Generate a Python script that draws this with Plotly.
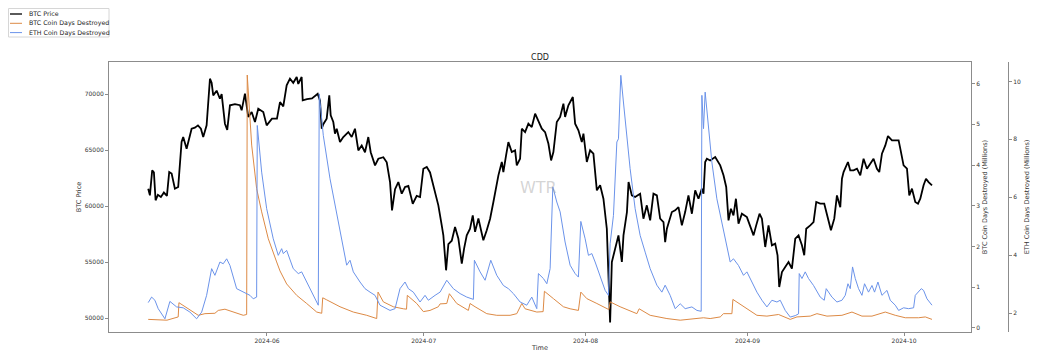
import pandas as pd
import plotly.graph_objects as go

# ---------------- data (days counted from 2024-05-01 00:00) ----------------
start = pd.Timestamp("2024-05-01")

price_days = [8.26, 8.58, 9.02, 9.35, 9.67, 10.11, 10.69, 11.26, 11.84, 12.28, 12.74, 13.37, 14.00,
              14.65, 14.96, 15.61, 16.57, 17.20, 17.78, 18.35, 18.79, 19.44, 20.08, 20.40, 20.71,
              21.36, 21.99, 22.32, 22.95, 23.39, 23.91, 24.87, 25.82, 26.15, 26.78, 27.41, 28.07,
              28.70, 29.33, 30.29, 30.94, 31.95, 32.91, 33.49, 34.12, 34.77, 35.40, 36.03, 36.69,
              36.99, 37.64, 37.84, 38.66, 39.62, 40.71, 41.15, 41.48, 41.78, 42.43, 42.93, 43.20,
              43.70, 44.02, 44.35, 44.98, 45.61, 46.57, 47.22, 47.85, 48.49, 49.14, 49.77, 50.40,
              50.86, 51.69, 52.32, 53.28, 53.93, 54.56, 54.94, 55.52, 56.15, 56.80, 57.43, 58.07,
              58.91, 59.67, 60.31, 60.94, 61.59, 62.22, 62.85, 63.81, 64.46, 64.77, 65.29, 65.73,
              66.38, 67.01, 67.64, 68.30, 68.74, 69.25, 69.88, 70.40, 70.84, 71.48, 72.13, 72.43,
              73.08, 73.72, 74.35, 75.31, 75.96, 76.26, 76.78, 77.22, 77.87, 78.51, 78.83, 79.46,
              79.79, 80.42, 81.05, 81.70, 82.34, 82.97, 83.62, 84.25, 84.89, 85.40, 85.84, 86.49,
              87.13, 87.76, 88.08, 88.71, 89.56, 90.00, 90.63, 91.28, 91.59, 92.24, 92.87, 93.50,
              94.16, 94.79, 95.42, 96.07, 96.46, 96.70, 97.03, 97.66, 98.30, 98.95, 99.26, 99.92,
              100.23, 100.86, 101.49, 102.45, 103.08, 103.73, 104.37, 105.00, 105.65, 106.28,
              106.92, 107.24, 107.57, 108.52, 109.16, 109.79, 110.44, 111.07, 111.70, 112.36,
              112.99, 113.62, 114.27, 114.58, 114.90, 115.23, 115.86, 116.82, 117.78, 118.41,
              118.93, 119.37, 119.83, 120.32, 120.79, 121.28, 121.93, 122.89, 123.52, 124.16,
              124.67, 125.31, 125.77, 126.40, 127.03, 127.68, 128.31, 128.76, 129.08, 129.60,
              130.23, 130.86, 131.51, 132.15, 132.78, 133.43, 133.87, 134.25, 135.02, 135.65,
              136.17, 136.93, 137.70, 138.52, 138.98, 139.62, 140.13, 140.77, 141.09, 141.40,
              141.72, 142.24, 142.68, 143.31, 143.97, 144.60, 145.23, 145.88, 146.51, 147.14,
              147.79, 148.24, 148.75, 149.39, 149.90, 150.67, 151.30, 151.94, 152.26, 152.89,
              153.54, 153.98, 154.50, 155.13, 155.65, 156.09, 156.72, 157.18, 157.68, 158.33]
btc_price = [61545, 60955, 63188, 63000, 60509, 61000, 60800, 61200, 60900, 63036, 62900, 61545, 61700,
             65714, 66160, 65117, 66902, 67000, 67200, 66900, 66160, 67205, 71370, 71000, 69880,
             70300, 69580, 70000, 67350, 66800, 68990, 69100, 69000, 68545, 70030, 67950, 68400,
             67500, 68690, 68400, 67200, 67800, 67800, 69285, 68900, 70775, 71370, 71000, 71520,
             70900, 71520, 69435, 69550, 69600, 70030, 69400, 66900, 67300, 67800, 69880, 68100,
             67500, 66460, 66900, 65710, 66160, 66600, 66160, 66900, 64970, 65400, 64800, 66160,
             64800, 63630, 64220, 64360, 63900, 62140, 59615, 61500, 62140, 61100, 61700, 61800,
             60200, 60900, 60800, 63330, 63480, 63000, 61850, 60060, 58270, 57390, 54260, 56600,
             56900, 58125, 57100, 54850, 56190, 57380, 57980, 59170, 57690, 58880, 57540, 56940,
             57840, 58870, 60360, 62740, 63930, 63030, 64520, 65710, 64820, 64970, 63630, 64220,
             66900, 66600, 67350, 67050, 68240, 67650, 66900, 66600, 65560, 64070, 64820, 67500,
             67950, 69140, 67950, 69000, 69730, 67350, 66760, 65710, 66460, 63930, 64970, 64670,
             61400, 61850, 60650, 57970, 51720, 49600, 55000, 56190, 57380, 55000, 57380, 59460,
             62140, 60950, 60800, 61100, 58870, 60060, 58720, 61100, 60950, 58870,
             58570, 56780, 57980, 59460, 59610, 59900, 58270, 59460, 60950, 59310,
             61400, 60650, 61550, 61100, 63930, 64220, 64070, 64370, 63630, 62740,
             61700, 58720, 59760, 59160, 60650, 58420, 59310, 59010, 58270, 57380,
             58270, 59310, 58870, 56340, 58270, 56490, 56640, 55600, 52770, 54110,
             54560, 55000, 54410, 57080, 57380, 56490, 55600, 57970, 58270, 58570,
             60360, 60210, 60210, 58570, 57840, 58870, 60950, 59900, 62440, 63030,
             63330, 63930, 63180, 63180, 63330, 62740, 64220, 63330, 63780, 64220,
             63330, 63030, 64670, 65410, 66250, 65860, 65860, 65860, 65120, 63630,
             63330, 60950, 61550, 60360, 60210, 60650, 61850, 62440, 62140, 61850]

btc_cdd_days = [8.26, 11.46, 11.84, 14.00, 14.14, 17.84, 19.12, 21.03, 21.67, 22.95, 25.19, 26.46,
                27.11, 27.22, 28.07, 29.02, 29.98, 31.25, 32.85, 33.49, 34.77, 36.69, 38.60, 40.52,
                41.48, 41.67, 42.43, 44.98, 47.53, 50.10, 52.01, 52.26, 53.28, 55.19, 57.11, 57.72,
                57.87, 59.67, 60.31, 60.94, 62.22, 63.81, 64.14, 65.42, 65.92, 67.34, 69.56, 69.88,
                70.84, 73.08, 75.00, 77.55, 78.83, 79.79, 80.42, 82.66, 83.87, 84.12, 85.84, 87.76,
                89.04, 90.63, 91.09, 92.24, 94.16, 96.07, 96.46, 96.70, 98.62, 101.82, 102.26,
                104.37, 107.57, 110.12, 112.66, 114.58, 115.86, 117.78, 118.41, 120.02, 120.21,
                122.24, 124.81, 126.72, 128.95, 131.19, 132.47, 135.02, 136.30, 138.22, 139.81,
                141.09, 143.01, 144.92, 146.84, 149.39, 151.30, 153.22, 155.76, 157.05, 158.33]
btc_cdd = [0.21, 0.20, 0.19, 0.27, 0.62, 0.31, 0.35, 0.36, 0.43, 0.46, 0.36, 0.31,
           0.33, 6.21, 4.49, 3.42, 2.85, 2.19, 1.62, 1.40, 1.08, 0.80, 0.60, 0.39,
           0.36, 0.74, 0.69, 0.52, 0.39, 0.31, 0.23, 0.88, 0.64, 0.52, 0.47, 0.46,
           0.80, 0.60, 0.50, 0.40, 0.43, 0.52, 0.59, 0.60, 0.84, 0.60, 0.43, 0.60,
           0.52, 0.35, 0.31, 0.31, 0.35, 0.60, 0.47, 0.39, 0.40, 0.90, 0.72, 0.52,
           0.47, 0.43, 0.88, 0.72, 0.60, 0.47, 0.45, 0.64, 0.52, 0.35, 0.47,
           0.31, 0.23, 0.19, 0.23, 0.25, 0.23, 0.27, 0.35, 0.35, 0.70,
           0.52, 0.31, 0.29, 0.33, 0.21, 0.27, 0.29, 0.35, 0.29, 0.31,
           0.31, 0.39, 0.29, 0.29, 0.39, 0.31, 0.25, 0.25, 0.27, 0.21]

eth_cdd_days = [8.26, 8.91, 9.54, 10.17, 11.46, 12.41, 13.70, 14.96, 16.25, 17.53, 18.49, 19.44,
                20.40, 21.03, 21.99, 22.62, 23.28, 23.91, 25.19, 26.46, 27.74, 28.37, 29.02, 29.14,
                29.98, 30.94, 32.20, 33.16, 33.81, 34.12, 34.77, 36.03, 36.99, 37.64, 38.60, 39.87,
                40.82, 41.01, 41.78, 43.07, 44.35, 45.61, 46.26, 46.90, 47.53, 48.81, 49.77, 50.73,
                51.69, 52.64, 54.56, 55.52, 56.47, 57.43, 58.07, 59.02, 60.31, 61.26, 61.90, 63.18,
                64.14, 65.42, 66.68, 67.97, 69.25, 70.52, 70.71, 71.80, 72.76, 73.85, 75.00, 76.26,
                77.22, 78.18, 79.46, 80.74, 81.70, 82.66, 82.97, 83.93, 84.58, 85.21, 85.73, 86.49,
                87.13, 88.08, 89.04, 90.00, 90.63, 91.09, 91.92, 92.55, 93.20, 93.83, 94.79, 95.75,
                96.38, 96.70, 97.34, 97.99, 98.30, 98.75, 99.25, 99.77, 100.53, 101.49, 102.45,
                103.41, 104.37, 105.65, 106.61, 107.24, 108.20, 109.16, 110.12, 111.07, 112.36,
                113.32, 114.14, 114.27, 114.58, 114.90, 115.53, 116.18, 117.14, 118.41, 119.69,
                120.32, 121.28, 122.24, 122.89, 123.85, 124.81, 125.77, 126.72, 127.68, 128.64,
                129.27, 130.23, 131.19, 132.15, 132.78, 132.91, 133.43, 134.06, 134.69, 135.65,
                136.93, 137.70, 138.08, 139.17, 140.13, 141.09, 141.72, 142.24, 142.68, 143.12,
                143.64, 144.27, 144.92, 145.42, 146.18, 146.84, 147.33, 147.98, 148.75, 149.71,
                150.34, 151.30, 151.94, 152.89, 153.85, 154.81, 155.13, 155.76, 156.28, 156.72,
                157.37, 158.33]
eth_cdd = [2.37, 2.56, 2.45, 2.16, 1.81, 2.41, 2.22, 2.19, 2.04, 1.81, 2.04, 2.62,
           3.54, 3.31, 3.77, 3.71, 3.88, 3.65, 2.85, 2.73, 2.62, 2.50, 2.56, 8.48,
           6.87, 5.61, 4.57, 4.00, 4.23, 4.06, 4.17, 3.54, 3.37, 3.43, 3.08, 2.62,
           2.28, 9.57, 8.14, 6.64, 5.49, 4.34, 3.66, 3.83, 3.43, 3.08, 2.85, 2.73,
           2.62, 2.28, 2.10, 2.16, 2.85, 3.08, 2.85, 2.73, 2.39, 2.62, 2.45, 2.62,
           2.73, 3.14, 2.85, 2.68, 2.56, 2.48, 3.83, 3.43, 3.14, 3.83, 3.31, 2.96,
           2.85, 2.68, 2.39, 2.28, 2.56, 2.16, 3.37, 3.20, 3.02, 3.54, 6.36, 5.84,
           5.50, 4.46, 3.66, 3.37, 3.25, 5.17, 4.57, 4.00, 4.06, 3.77, 3.31, 2.79,
           2.62, 4.40, 5.38, 7.91, 8.02, 10.21, 9.29, 8.37, 6.99, 5.61, 4.69,
           4.11, 3.54, 2.97, 2.73, 2.97, 2.62, 2.16, 2.33, 2.16, 2.22,
           2.10, 2.07, 9.52, 8.37, 9.63, 8.37, 7.22, 5.95, 4.92, 3.77,
           3.88, 3.65, 3.31, 3.43, 3.08, 2.73, 2.45, 2.22, 2.45, 2.39,
           2.45, 2.10, 1.87, 1.92, 1.98, 3.37, 3.20, 3.43, 3.20, 2.96,
           2.56, 2.45, 2.85, 2.56, 2.39, 2.45, 2.62, 3.02, 2.85, 3.60,
           3.20, 2.85, 2.62, 3.02, 2.73, 2.96, 2.73, 3.08, 2.62, 2.79,
           2.45, 2.28, 2.10, 2.19, 2.16, 2.19, 2.62, 2.73, 2.85, 2.79,
           2.50, 2.28]

series_names = ["BTC Price", "BTC Coin Days Destroyed", "ETH Coin Days Destroyed"]
series_colors = ["black", "#dd8a45", "#6b93ea"]

x_ticks = ["2024-06-01", "2024-07-01", "2024-08-01", "2024-09-01", "2024-10-01"]
x_tick_labels = ["2024-06", "2024-07", "2024-08", "2024-09", "2024-10"]


def to_dates(days):
    return start + pd.to_timedelta(days, unit="D")


FONT = "DejaVu Sans"
TXT = "#333333"
SPINE = "#8c8c8c"

# layout geometry: page has an 8px body margin, so the figure starts at (8, 8)
OFF = 8
W, H = 1038 - OFF, 355 - OFF
L = 109 - OFF           # plot left edge in screenshot = 109
T = 62 - OFF            # plot top in screenshot = 62
R = W - (1008 - OFF)    # third axis spine in screenshot = 1008
B = H - (332 - OFF)     # plot bottom in screenshot = 332
PW = W - L - R
PH = H - T - B


def px_x(px):
    """screenshot pixel x -> paper fraction"""
    return (px - OFF - L) / PW


def px_y(py):
    """screenshot pixel y -> paper fraction"""
    return (H - B - (py - OFF)) / PH


fig = go.Figure()
fig.add_trace(go.Scatter(x=to_dates(price_days), y=btc_price, mode="lines", name=series_names[0],
                         line=dict(color=series_colors[0], width=1.8), yaxis="y", showlegend=False))
fig.add_trace(go.Scatter(x=to_dates(btc_cdd_days), y=btc_cdd, mode="lines", name=series_names[1],
                         line=dict(color=series_colors[1], width=1), yaxis="y2", showlegend=False))
fig.add_trace(go.Scatter(x=to_dates(eth_cdd_days), y=eth_cdd, mode="lines", name=series_names[2],
                         line=dict(color=series_colors[2], width=1), yaxis="y3", showlegend=False))

axis_common = dict(showgrid=False, zeroline=False, linecolor=SPINE, linewidth=1,
                   ticks="outside", ticklen=3, tickcolor=SPINE,
                   tickfont=dict(family=FONT, size=6, color=TXT))

# manual legend (matplotlib-style compact box)
shapes = [dict(type="rect", xref="paper", yref="paper",
               x0=px_x(8.5), x1=px_x(109), y0=px_y(37), y1=px_y(8.5),
               line=dict(color="#d6d6d6", width=1), fillcolor="white", layer="above")]
annotations = []
for i, (nm, col) in enumerate(zip(series_names, series_colors)):
    yy = 14 + i * 9.3
    shapes.append(dict(type="line", xref="paper", yref="paper",
                       x0=px_x(10), x1=px_x(22), y0=px_y(yy), y1=px_y(yy),
                       line=dict(color=col, width=1.3 if i == 0 else 1), layer="above"))
    annotations.append(dict(text=nm, x=px_x(27), y=px_y(yy), xref="paper", yref="paper",
                            xanchor="left", yanchor="middle", showarrow=False,
                            font=dict(family=FONT, size=6.3, color="#222")))

annotations.append(dict(text="WTR", x=px_x(538), y=px_y(187), xref="paper", yref="paper",
                        showarrow=False,
                        font=dict(family=FONT, size=16, color="rgba(160,160,160,0.45)")))

fig.update_layout(
    width=W, height=H,
    margin=dict(l=L, r=R, t=T, b=B, autoexpand=False),
    paper_bgcolor="white", plot_bgcolor="white",
    font=dict(family=FONT, color=TXT),
    title=dict(text="CDD", x=px_x(540), xref="paper", xanchor="center",
               y=1 - (57 - OFF) / H, yanchor="middle", font=dict(size=8, color="#222")),
    xaxis=dict(domain=[0, px_x(971)],
               range=[to_dates([0.75])[0], to_dates([165.8])[0]],
               tickvals=x_ticks, ticktext=x_tick_labels, showline=True, mirror=True,
               title=dict(text="Time", font=dict(size=6.5, color=TXT), standoff=2),
               **axis_common),
    yaxis=dict(range=[48750, 72860], tickvals=[50000, 55000, 60000, 65000, 70000],
               tickformat="d", showline=True, mirror=True,
               title=dict(text="BTC Price", font=dict(size=6.5, color=TXT), standoff=2),
               **axis_common),
    yaxis2=dict(overlaying="y", side="right", anchor="x", range=[-0.1, 6.53],
                tickvals=[0, 1, 2, 3, 4, 5, 6], showline=True,
                title=dict(text="BTC Coin Days Destroyed (Millions)",
                           font=dict(size=6.5, color=TXT), standoff=3),
                **axis_common),
    yaxis3=dict(overlaying="y", side="right", anchor="free", position=1.0,
                range=[1.355, 10.67], tickvals=[2, 4, 6, 8, 10], showline=True,
                title=dict(text="ETH Coin Days Destroyed (Millions)",
                           font=dict(size=6.5, color=TXT), standoff=4),
                **axis_common),
    showlegend=False,
    shapes=shapes,
    annotations=annotations,
)

fig.write_html("out.html")
